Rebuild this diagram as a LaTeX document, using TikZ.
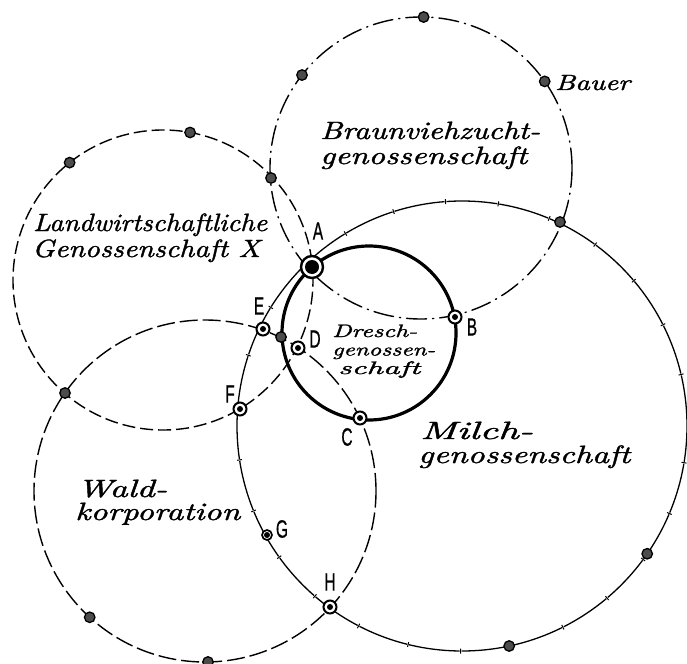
\documentclass[tikz,border=0pt]{standalone}
\usepackage{fontspec}
\usepackage{graphicx}
\newfontfamily\lettfont{Liberation Sans}[FakeBold=0.8]
\newfontfamily\handfont{lmroman10-italic.otf}[FakeBold=1.3]
\usetikzlibrary{calc,decorations.markings}
\newcommand\hw[2]{\resizebox{#1}{\height}{#2}}
\newcommand\mylet[1]{\scalebox{0.62}[1]{#1}}
\begin{document}
\begin{tikzpicture}[x=1pt,y=-1pt,
  hand/.style={anchor=base west, inner sep=0pt, font=\fontsize{25pt}{29pt}\selectfont\handfont},
  handsmall/.style={anchor=base west, inner sep=0pt, font=\fontsize{18pt}{21pt}\selectfont\handfont},
  letter/.style={inner sep=0pt, font=\fontsize{25pt}{28pt}\selectfont\lettfont},
  braun/.style={line width=1.4pt, line cap=round, dash pattern=on 20pt off 6pt on 1.2pt off 6pt},
  landw/.style={line width=1.4pt, dash pattern=on 13pt off 5pt},
  wald/.style={line width=1.4pt, dash pattern=on 18pt off 5pt},
  dresch/.style={line width=3.2pt},
  milch/.style={line width=1.3pt, dash pattern=on 51pt off 2pt,
    postaction={decorate, decoration={markings,
      mark=between positions 52pt and -2pt step 53pt with {\draw[solid, line width=1pt] (0pt,-2.5pt) -- (0pt,2.5pt);}}}},
  member/.style={circle, draw=black, line width=1.3pt, fill=black!70, inner sep=0pt, minimum size=10.5pt},
  ring/.style={circle, draw=black, line width=2pt, fill=white, inner sep=0pt, minimum size=13pt,
    path picture={\fill[black] (path picture bounding box.center) circle[radius=3pt];}},
  bigdot/.style={circle, draw=black, line width=2.4pt, fill=white, inner sep=0pt, minimum size=22pt,
    path picture={\fill[black] (path picture bounding box.center) circle[radius=7pt];}}
]
\useasboundingbox (0,0) rectangle (687,663);
\fill[white] (0,0) rectangle (687,663);

% circle centres
\coordinate (cBr) at (421,168);
\coordinate (cLa) at (163,280);
\coordinate (cWa) at (205,491);
\coordinate (cMi) at (462,426);
\coordinate (cDr) at (369,333);

% circles
\draw[landw] (cLa) circle[radius=150pt];
\draw[wald] (cWa) circle[radius=171pt];
\draw[milch] (cMi) circle[radius=225pt];
\draw[braun] (cBr) circle[radius=151pt];
\draw[dresch] (cDr) circle[radius=87pt];

% members on one circle
\node[member] (m1) at ($(cBr)+(-89:151)$) {};
\node[member] (m2) at ($(cBr)+(-142:151)$) {};
\node[member] (mBauer) at ($(cBr)+(-35:151)$) {};
\node[member] (m4) at ($(cLa)+(-128.5:150)$) {};
\node[member] (m5) at ($(cLa)+(-79.6:150)$) {};
\node[member] (m6) at ($(cWa)+(132.4:171)$) {};
\node[member] (m7) at ($(cWa)+(89:171)$) {};
\node[member] (m8) at ($(cMi)+(34.6:225)$) {};
\node[member] (m9) at ($(cMi)+(77.9:225)$) {};
% members on two circles
\node[member] (m10) at (560,222) {};
\node[member] (m11) at (271,178) {};
\node[member] (m12) at (65,393) {};
\node[member] (m13) at (281,337) {};

% lettered members
\node[bigdot] (A) at (312,267) {};
\node[ring] (B) at (455,317) {};
\node[ring] (C) at (360,418) {};
\node[ring] (D) at (298,348) {};
\node[ring] (E) at (263,329) {};
\node[ring] (F) at (240,409) {};
\node[ring, minimum size=10pt, line width=1.7pt] (G) at (267,535) {};
\node[ring] (H) at (330,607) {};

% letter labels
\node[letter] (lA) at (318,231) {\mylet{A}};
\node[letter] (lB) at (472,327) {\mylet{B}};
\node[letter] (lC) at (347,437) {\mylet{C}};
\node[letter] (lD) at (315,339) {\mylet{D}};
\node[letter] (lE) at (259,306) {\mylet{E}};
\node[letter] (lF) at (230,394) {\mylet{F}};
\node[letter] (lG) at (282,529) {\mylet{G}};
\node[letter] (lH) at (330,582) {\mylet{H}};

% group labels
\node[hand] (t1) at (320,139) {\hw{220pt}{Braunviehzucht-}};
\node[hand] (t2) at (320,164) {\hw{207pt}{genossenschaft}};
\node[hand] (t3) at (33,231) {\hw{234pt}{Landwirtschaftliche}};
\node[hand] (t4) at (32,257) {\hw{228pt}{Genossenschaft X}};
\node[handsmall] (t5) at (332,337) {\hw{85pt}{Dresch-}};
\node[handsmall] (t6) at (332,355.5) {\hw{103pt}{genossen-}};
\node[handsmall] (t7) at (338,374) {\hw{82pt}{schaft}};
\node[hand] (t8) at (420,439) {\hw{113pt}{Milch-}};
\node[hand] (t9) at (418,463) {\hw{212pt}{genossenschaft}};
\node[hand] (t10) at (77,497) {\hw{90pt}{Wald-}};
\node[hand] (t11) at (75,520) {\hw{165pt}{korporation}};
\node[handsmall, font=\fontsize{22pt}{25pt}\selectfont\handfont] (t12) at (555,90) {\hw{75pt}{Bauer}};
\end{tikzpicture}
\end{document}
